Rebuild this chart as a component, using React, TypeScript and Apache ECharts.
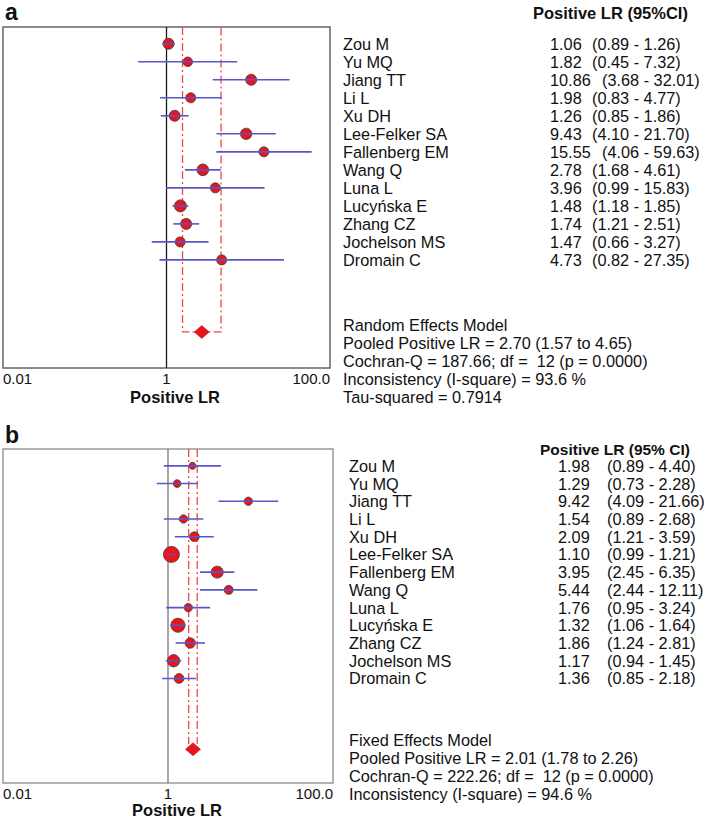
import React, { useEffect, useRef } from "react";
import * as echarts from "echarts";

// ---------- data ----------
const studies = [
  "Zou M", "Yu MQ", "Jiang TT", "Li L", "Xu DH", "Lee-Felker SA", "Fallenberg EM",
  "Wang Q", "Luna L", "Lucyńska E", "Zhang CZ", "Jochelson MS", "Dromain C",
];

// Panel a (random effects)
const lrA = [1.06, 1.82, 10.86, 1.98, 1.26, 9.43, 15.55, 2.78, 3.96, 1.48, 1.74, 1.47, 4.73];
const loA = [0.89, 0.45, 3.68, 0.83, 0.85, 4.10, 4.06, 1.68, 0.99, 1.18, 1.21, 0.66, 0.82];
const hiA = [1.26, 7.32, 32.01, 4.77, 1.86, 21.70, 59.63, 4.61, 15.83, 1.85, 2.51, 3.27, 27.35];
const weightA = [11, 9.5, 11, 10, 11, 11.3, 10, 11.7, 10, 12, 11, 10, 10];
const pooledA = { est: 2.70, lo: 1.57, hi: 4.65 };
const modelA = [
  "Random Effects Model",
  "Pooled Positive LR = 2.70 (1.57 to 4.65)",
  "Cochran-Q = 187.66; df =  12 (p = 0.0000)",
  "Inconsistency (I-square) = 93.6 %",
  "Tau-squared = 0.7914",
];

// Panel b (fixed effects)
const lrB = [1.98, 1.29, 9.42, 1.54, 2.09, 1.10, 3.95, 5.44, 1.76, 1.32, 1.86, 1.17, 1.36];
const loB = [0.89, 0.73, 4.09, 0.89, 1.21, 0.99, 2.45, 2.44, 0.95, 1.06, 1.24, 0.94, 0.85];
const hiB = [4.40, 2.28, 21.66, 2.68, 3.59, 1.21, 6.35, 12.11, 3.24, 1.64, 2.81, 1.45, 2.18];
const weightB = [7, 7.7, 8.3, 8.3, 9.7, 16, 12, 9, 8.3, 14, 10.3, 12.3, 9.7];
const pooledB = { est: 2.01, lo: 1.78, hi: 2.26 };
const modelB = [
  "Fixed Effects Model",
  "Pooled Positive LR = 2.01 (1.78 to 2.26)",
  "Cochran-Q = 222.26; df =  12 (p = 0.0000)",
  "Inconsistency (I-square) = 94.6 %",
];

const xTicks = [0.01, 1, 100];
const xTickLabels = ["0.01", "1", "100.0"];
const POOLED_ROW = 16;

const FONT = '"Liberation Sans", Arial, sans-serif';
const BODY = 16.3;

export default function App() {
  const ref = useRef<HTMLDivElement>(null);

  useEffect(() => {
    document.body.style.margin = "0";
    const chart = echarts.init(ref.current!, null, { renderer: "svg" });

    const panels = [
      {
        grid: { left: 2, top: 27, width: 328, height: 341 },
        yMin: -0.93, yMax: 18.0,
        lr: lrA, lo: loA, hi: hiA, w: weightA, pooled: pooledA,
        bracket: true, refColor: "#1a1a1a", boxColor: "#666",
        header: "Positive LR (95%CI)", headerX: 533, headerY: 13, headerSize: 16.5,
        nameX: 343, valX: 550, ciX: 592, ciX5: 602,
        model: modelA, modelX: 343, modelY: 325,
        letter: "a", letterY: 12, titleY: 397, titleX: 175,
      },
      {
        grid: { left: 3, top: 449, width: 330, height: 334 },
        yMin: -0.95, yMax: 17.9,
        lr: lrB, lo: loB, hi: hiB, w: weightB, pooled: pooledB,
        bracket: false, refColor: "#777", boxColor: "#999",
        header: "Positive LR (95% CI)", headerX: 540, headerY: 449, headerSize: 15.5,
        nameX: 349, valX: 558, ciX: 607, ciX5: 617,
        model: modelB, modelX: 349, modelY: 740,
        letter: "b", letterY: 435, titleY: 810, titleX: 177,
      },
    ];

    const grids: any[] = [];
    const xAxes: any[] = [];
    const yAxes: any[] = [];
    const series: any[] = [];

    panels.forEach((p, gi) => {
      grids.push({
        ...p.grid,
        show: true,
        borderColor: p.boxColor,
        borderWidth: 1.5,
        backgroundColor: "transparent",
      });
      xAxes.push({
        type: "log",
        logBase: 10,
        gridIndex: gi,
        min: 0.01,
        max: 100,
        axisLine: { show: false },
        axisTick: { show: false },
        splitLine: { show: false },
        axisLabel: {
          show: true,
          margin: 3,
          fontSize: 15,
          fontFamily: FONT,
          color: "#111",
          showMinLabel: true,
          showMaxLabel: true,
          alignMinLabel: "left",
          alignMaxLabel: "right",
          formatter: (v: number) => {
            const k = xTicks.findIndex((t) => Math.abs(Math.log10(v) - Math.log10(t)) < 1e-6);
            return k >= 0 ? xTickLabels[k] : "";
          },
        },
      });
      yAxes.push({
        type: "value",
        gridIndex: gi,
        min: p.yMin,
        max: p.yMax,
        inverse: true,
        show: false,
      });

      const yMin = p.yMin;
      const yMax = p.yMax;

      // pooled CI dashed lines
      series.push({
        type: "custom",
        xAxisIndex: gi,
        yAxisIndex: gi,
        z: 2,
        silent: true,
        encode: { x: [0, 1], y: 2 },
        data: [[p.pooled.lo, p.pooled.hi, POOLED_ROW]],
        renderItem: (_params: any, api: any) => {
          const lo = api.value(0);
          const hi = api.value(1);
          const row = api.value(2);
          const style = { stroke: "#f04848", lineWidth: 1.3, lineDash: [8, 3, 2, 3], fill: null };
          if (p.bracket) {
            const pts = [
              api.coord([lo, yMin]),
              api.coord([lo, row]),
              api.coord([hi, row]),
              api.coord([hi, yMin]),
            ];
            return { type: "polyline", shape: { points: pts }, style };
          }
          const a1 = api.coord([lo, yMin]);
          const a2 = api.coord([lo, row - 0.3]);
          const b1 = api.coord([hi, yMin]);
          const b2 = api.coord([hi, row - 0.3]);
          return {
            type: "group",
            children: [
              { type: "line", shape: { x1: a1[0], y1: a1[1], x2: a2[0], y2: a2[1] }, style },
              { type: "line", shape: { x1: b1[0], y1: b1[1], x2: b2[0], y2: b2[1] }, style },
            ],
          };
        },
      });

      // reference line at LR = 1
      series.push({
        type: "custom",
        xAxisIndex: gi,
        yAxisIndex: gi,
        z: 2,
        silent: true,
        encode: { x: 0 },
        data: [[1]],
        renderItem: (_params: any, api: any) => {
          const t = api.coord([api.value(0), yMin]);
          const b = api.coord([api.value(0), yMax]);
          return {
            type: "line",
            shape: { x1: t[0], y1: t[1], x2: b[0], y2: b[1] },
            style: { stroke: p.refColor, lineWidth: 1.3 },
          };
        },
      });

      // study point estimates
      series.push({
        type: "scatter",
        xAxisIndex: gi,
        yAxisIndex: gi,
        z: 3,
        silent: true,
        symbol: "circle",
        data: p.lr.map((v, k) => ({ value: [v, k], symbolSize: p.w[k] })),
        itemStyle: { color: "#e8161c", borderColor: "#3a3a3a", borderWidth: 0.8, opacity: 1 },
      });

      // confidence intervals
      series.push({
        type: "custom",
        xAxisIndex: gi,
        yAxisIndex: gi,
        z: 4,
        silent: true,
        encode: { x: [0, 1], y: 2 },
        data: p.lo.map((l, k) => [l, p.hi[k], k]),
        renderItem: (_params: any, api: any) => {
          const r = api.value(2);
          const a = api.coord([api.value(0), r]);
          const b = api.coord([api.value(1), r]);
          return {
            type: "line",
            shape: { x1: a[0], y1: a[1], x2: b[0], y2: b[1] },
            style: { stroke: "#5757c9", lineWidth: 1.6 },
          };
        },
      });

      // pooled diamond
      series.push({
        type: "scatter",
        xAxisIndex: gi,
        yAxisIndex: gi,
        z: 5,
        silent: true,
        symbol: "diamond",
        symbolSize: [15, 13],
        data: [[p.pooled.est, POOLED_ROW]],
        itemStyle: { color: "#e8161c", borderColor: "#c81010", borderWidth: 0.6, opacity: 1 },
      });
    });

    chart.setOption({
      animation: false,
      backgroundColor: "#fff",
      grid: grids,
      xAxis: xAxes,
      yAxis: yAxes,
      series,
    });

    // text table, positioned through the y scales
    const txt = (
      text: string, x: number, y: number, size = BODY, weight = "normal", align = "left"
    ) => ({
      type: "text",
      x,
      y,
      silent: true,
      style: {
        text,
        fill: "#111",
        fontSize: size,
        fontFamily: FONT,
        fontWeight: weight,
        align,
        verticalAlign: "middle",
      },
    });

    const graphics: any[] = [];
    panels.forEach((p, gi) => {
      graphics.push(txt(p.letter, 5, p.letterY, 23, "bold"));
      graphics.push(txt(p.header, p.headerX, p.headerY, p.headerSize, "bold"));
      studies.forEach((name, k) => {
        const y = chart.convertToPixel({ yAxisIndex: gi } as any, k) as unknown as number;
        const vs = p.lr[k].toFixed(2);
        graphics.push(txt(name, p.nameX, y));
        graphics.push(txt(vs, p.valX, y));
        graphics.push(
          txt(
            `(${p.lo[k].toFixed(2)} - ${p.hi[k].toFixed(2)})`,
            vs.length > 4 ? p.ciX5 : p.ciX,
            y
          )
        );
      });
      p.model.forEach((line, k) => {
        graphics.push(txt(line, p.modelX, p.modelY + k * 18));
      });
      graphics.push(txt("Positive LR", p.titleX, p.titleY, 16.5, "bold", "center"));
    });

    chart.setOption({ graphic: graphics });

    return () => chart.dispose();
  }, []);

  return <div ref={ref} style={{ width: 709, height: 818 }} />;
}
